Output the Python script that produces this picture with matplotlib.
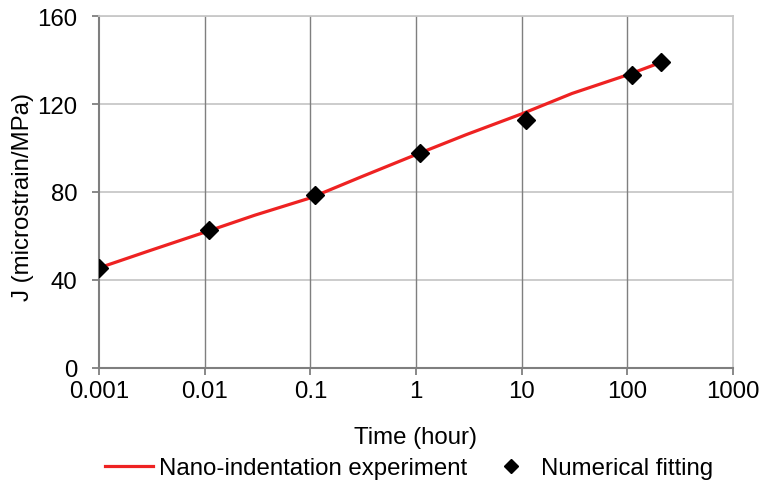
import matplotlib
matplotlib.use("Agg")
import matplotlib.pyplot as plt
from matplotlib.ticker import FixedLocator, FixedFormatter, NullLocator

plt.rcParams['font.family'] = ['Liberation Sans', 'DejaVu Sans']

# Creep compliance measured by nano-indentation
exp_time = [0.001, 0.003, 0.01, 0.03, 0.1, 0.3, 1, 3, 10, 30, 100, 200]
exp_J = [45.5, 53.3, 61.7, 69.5, 77.3, 86.8, 97.0, 106.1, 115.5, 124.8, 133.2, 138.6]

# Numerical model fit
fit_time = [0.001, 0.011, 0.11, 1.1, 11, 110, 210]
fit_J = [45.5, 62.8, 78.5, 97.8, 112.9, 133.2, 139.2]

x_ticks = [0.001, 0.01, 0.1, 1, 10, 100, 1000]
x_tick_labels = ["0.001", "0.01", "0.1", "1", "10", "100", "1000"]
y_ticks = [0, 40, 80, 120, 160]

fig = plt.figure(figsize=(7.62, 4.89), dpi=100)
ax = fig.add_axes([99 / 762, 1 - 369 / 489, 634 / 762, 352 / 489])

fs = 17.3
dark = '#7f7f7f'
light = '#c8c8c8'

ax.set_xscale('log')
ax.set_xlim(0.001, 1000)
ax.set_ylim(0, 160)

ax.xaxis.set_major_locator(FixedLocator(x_ticks))
ax.xaxis.set_major_formatter(FixedFormatter(x_tick_labels))
ax.xaxis.set_minor_locator(NullLocator())
ax.yaxis.set_major_locator(FixedLocator(y_ticks))

# grid: darker vertical lines at decades, light horizontal lines
for t in x_ticks[1:-1]:
    ax.axvline(t, color=dark, lw=1.0, zorder=0.5)
for v in y_ticks[1:]:
    ax.axhline(v, color=light, lw=1.3, zorder=0.4)

for side in ('top', 'right'):
    ax.spines[side].set_color(light)
    ax.spines[side].set_linewidth(1.3)
for side in ('left', 'bottom'):
    ax.spines[side].set_color(dark)
    ax.spines[side].set_linewidth(1.5)

ax.tick_params(axis='x', which='major', direction='out', length=5, width=1.3,
               color=dark, labelsize=fs, labelcolor='black', pad=3.5)
ax.tick_params(axis='y', which='major', direction='out', length=5, width=1.3,
               color=dark, labelsize=fs, labelcolor='black', pad=10.5)

ax.plot(exp_time, exp_J, color='#ee2222', lw=2.3, zorder=3,
        label='Nano-indentation experiment')
ax.plot(fit_time, fit_J, linestyle='none', marker='D', markersize=9.5,
        color='black', zorder=4, label='Numerical fitting')

ax.set_xlabel('Time (hour)', fontsize=fs)
ax.set_ylabel('J (microstrain/MPa)', fontsize=fs)
ax.xaxis.set_label_coords(0.5, -0.165)
ax.yaxis.set_label_coords(-0.103, 0.49)

fig.legend(loc='center', bbox_to_anchor=(0.537, 0.04), ncol=2, frameon=False,
           fontsize=fs, handlelength=2.0, handletextpad=0.25,
           columnspacing=0.8, markerscale=0.8)

fig.savefig('out.png', dpi=100)
